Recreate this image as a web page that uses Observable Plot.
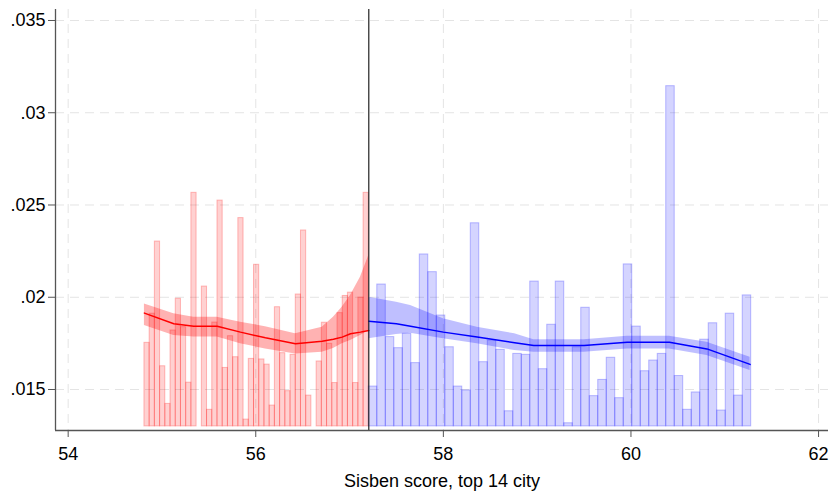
<!DOCTYPE html>
<html><head><meta charset="utf-8">
<script src="https://cdn.jsdelivr.net/npm/d3@7"></script>
<script src="https://cdn.jsdelivr.net/npm/@observablehq/plot@0.6"></script>
<style>body{margin:0;background:#fff}</style>
</head><body><div id="chart"></div>
<script>
// ---- data ----
const cutoff = 57.205;
const barBase = 0.0130;
const redStart = 54.813, redWidth = 0.05563;
const redDensity = [0.01753,0.01911,0.02302,0.01626,0.01422,0.01820,0.01992,0.01838,0.01537,0.02566,
  null,0.02058,0.01390,0.01863,0.02524,0.01617,0.01789,0.01675,0.02429,0.01337,
  0.01666,0.02176,0.01663,0.01635,0.01413,0.01946,0.01697,0.01491,0.01688,0.02015,
  0.02362,0.01467,null,0.01652,0.01862,0.01748,0.01535,0.01914,0.02007,0.02025,
  0.01535,0.01998,0.02566];
const blueStart = 57.205, blueWidth = 0.0906;
const blueDensity = [0.01516,0.02069,0.01784,0.01724,0.01802,0.01643,0.02232,0.02136,0.01901,0.01729,
  0.01516,0.01495,0.02401,0.01648,0.01766,0.01715,0.01382,0.01693,0.01688,0.02085,
  0.01610,0.01851,0.02085,0.01317,0.01729,0.01943,0.01464,0.01552,0.01672,0.01453,
  0.02178,0.01841,0.01599,0.01657,0.01693,0.03144,0.01573,0.01390,0.01484,0.01770,
  0.01859,0.01386,0.01911,0.01467,0.02010];
const redFitX = [54.813,55.126,55.339,55.589,55.837,56.103,56.423,56.708,56.828,56.921,57.010,57.116,57.205];
const redFit  = [0.01914,0.01856,0.01843,0.01843,0.01811,0.01780,0.01748,0.01762,0.01772,0.01784,0.01802,0.01811,0.01820];
const redHi   = [0.01964,0.01910,0.01892,0.01892,0.01865,0.01840,0.01802,0.01838,0.01892,0.01946,0.02009,0.02109,0.02226];
const redLo   = [0.01847,0.01793,0.01784,0.01784,0.01748,0.01720,0.01693,0.01702,0.01722,0.01748,0.01766,0.01793,0.01818];
const blueFitX = [57.205,57.500,57.650,58.000,58.360,58.760,58.964,59.500,59.960,60.410,60.810,61.270];
const blueFit  = [0.01870,0.01856,0.01843,0.01811,0.01784,0.01753,0.01738,0.01738,0.01756,0.01756,0.01720,0.01636];
const blueHi   = [0.02000,0.01973,0.01955,0.01883,0.01838,0.01802,0.01769,0.01769,0.01789,0.01789,0.01756,0.01675];
const blueLo   = [0.01775,0.01798,0.01805,0.01775,0.01748,0.01711,0.01702,0.01702,0.01720,0.01720,0.01684,0.01603];
const xTicks = [54,56,58,60,62];
const yTicks = [0.015,0.02,0.025,0.03,0.035];
const xLabel = "Sisben score, top 14 city";
const xDomain = [53.865, 62.106];
const yDomain = [0.012778, 0.035596];

// ---- tables ----
const redBars = redDensity.map((v,i)=>({x1: redStart+i*redWidth, x2: redStart+(i+1)*redWidth, y: v})).filter(d=>d.y!=null);
const blueBars = blueDensity.map((v,i)=>({x1: blueStart+i*blueWidth, x2: blueStart+(i+1)*blueWidth, y: v})).filter(d=>d.y!=null);
const redCurve = redFitX.map((x,i)=>({x, y: redFit[i], lo: redLo[i], hi: redHi[i]}));
const blueCurve = blueFitX.map((x,i)=>({x, y: blueFit[i], lo: blueLo[i], hi: blueHi[i]}));
const fmt = d => d.toFixed(3).replace(/0+$/,"").replace(/^0/,"");

const chart = Plot.plot({
  width: 831, height: 493,
  marginLeft: 55, marginRight: 3, marginTop: 9, marginBottom: 63,
  style: {fontFamily: "'Liberation Sans', Arial, sans-serif", fontSize: "18px", color: "#000", background: "#fff"},
  x: {domain: xDomain, ticks: xTicks},
  y: {domain: yDomain, ticks: yTicks},
  marks: [
    Plot.gridX(xTicks, {stroke: "#e4e4e4", strokeOpacity: 1, strokeDasharray: "9,6"}),
    Plot.gridY(yTicks, {stroke: "#e4e4e4", strokeOpacity: 1, strokeDasharray: "9,6"}),
    Plot.rect(redBars, {x1: "x1", x2: "x2", y1: barBase, y2: "y", fill: "#ff0000", fillOpacity: 0.18, stroke: "#ff0000", strokeOpacity: 0.25}),
    Plot.rect(blueBars, {x1: "x1", x2: "x2", y1: barBase, y2: "y", fill: "#0000ff", fillOpacity: 0.17, stroke: "#0000ff", strokeOpacity: 0.25}),
    Plot.areaY(redCurve, {x: "x", y1: "lo", y2: "hi", fill: "#ff0000", fillOpacity: 0.3}),
    Plot.areaY(blueCurve, {x: "x", y1: "lo", y2: "hi", fill: "#0000ff", fillOpacity: 0.25}),
    Plot.line(redCurve, {x: "x", y: "y", stroke: "#ff0000", strokeWidth: 1.5}),
    Plot.line(blueCurve, {x: "x", y: "y", stroke: "#0000ff", strokeWidth: 1.5}),
    Plot.ruleX([cutoff], {stroke: "#222", strokeWidth: 1.2}),
    Plot.ruleX([xDomain[0]], {stroke: "#555", strokeWidth: 1.3}),
    Plot.ruleY([yDomain[0]], {stroke: "#555", strokeWidth: 1.3}),
    Plot.axisY(yTicks, {tickFormat: fmt, tickSize: 7, tickPadding: 3, stroke: "#555", label: null}),
    Plot.axisX(xTicks, {tickFormat: d => String(d), tickSize: 7, tickPadding: 10, stroke: "#555", label: xLabel, labelAnchor: "center", labelArrow: "none", labelOffset: 56})
  ]
});
document.getElementById("chart").appendChild(chart);
</script>
</body></html>
